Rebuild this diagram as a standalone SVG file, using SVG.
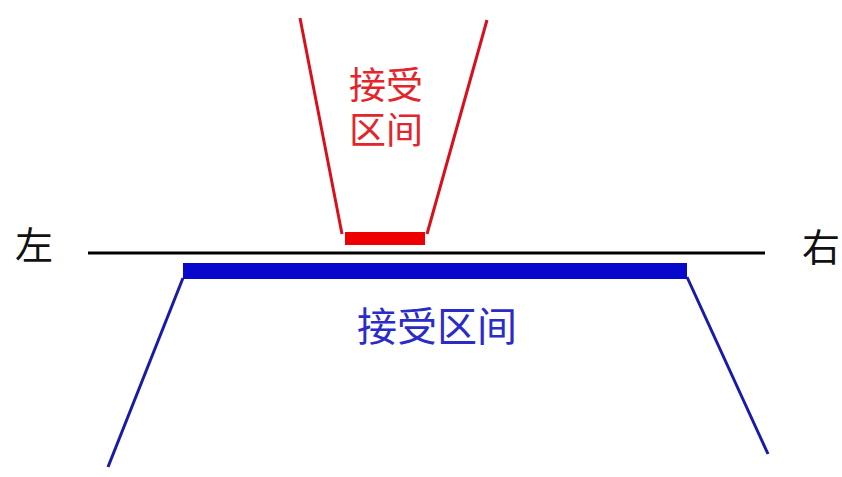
<svg xmlns="http://www.w3.org/2000/svg" width="842" height="477" viewBox="0 0 842 477">
<style>
.t{font-family:"Noto Sans CJK SC","Liberation Sans",sans-serif;text-anchor:middle}
.red{fill:#e3252c}
.blue{fill:#2b2bc8}
.blk{fill:#111}
.rl{stroke:#d8101c;stroke-width:3;fill:none}
.bl{stroke:#1a1aa8;stroke-width:3;fill:none}
</style>
<rect width="842" height="477" fill="#fff"/>
<g id="axis">
<line x1="88" y1="253" x2="765" y2="253" stroke="#000" stroke-width="3"/>
<text class="t blk" x="34" y="259" font-size="38">左</text>
<text class="t blk" x="821" y="261" font-size="38">右</text>
</g>
<g id="red-interval">
<path class="rl" d="M300,18 L342,234"/>
<path class="rl" d="M487,20 L427,234"/>
<rect x="345" y="232" width="80" height="13" fill="#ee0000"/>
<text class="t red" font-size="37"><tspan x="386" y="99">接受</tspan><tspan x="386" y="144">区间</tspan></text>
</g>
<g id="blue-interval">
<path class="bl" d="M183,278 L108,467"/>
<path class="bl" d="M687,277 L768,454"/>
<rect x="183" y="263" width="504" height="16" fill="#0808cc"/>
<text class="t blue" x="437" y="341" font-size="40">接受区间</text>
</g>
</svg>
